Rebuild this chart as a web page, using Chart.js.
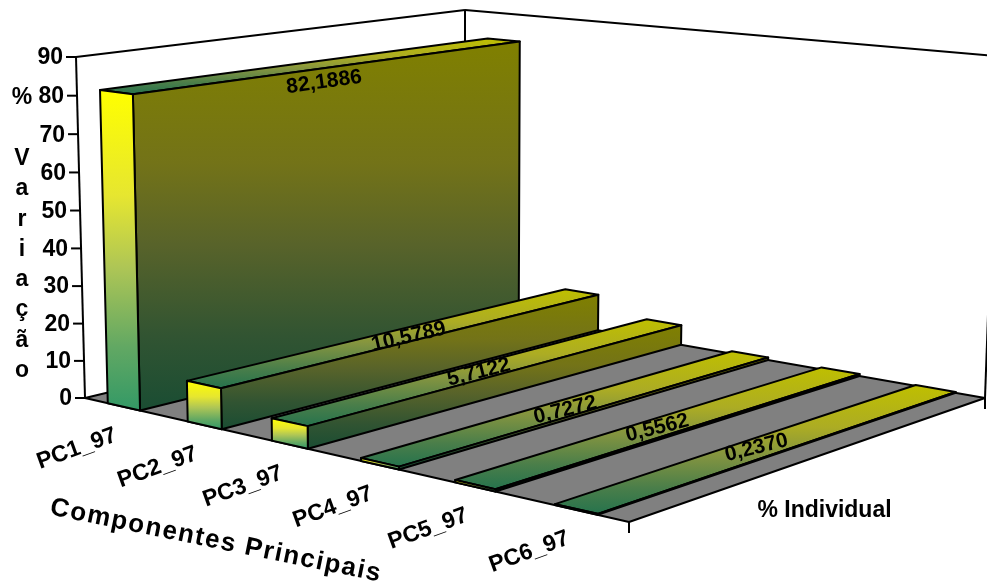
<!DOCTYPE html>
<html>
<head>
<meta charset="utf-8">
<title>Componentes Principais</title>
<script src="https://cdn.jsdelivr.net/npm/chart.js@4/dist/chart.umd.min.js"></script>
<style>
  html, body { margin: 0; padding: 0; background: #fff; }
  canvas { display: block; }
</style>
</head>
<body>
<canvas id="graph-canvas" width="987" height="588"></canvas>
<script>
const categories = ['PC1_97', 'PC2_97', 'PC3_97', 'PC4_97', 'PC5_97', 'PC6_97'];
const individual = [82.1886, 10.5789, 5.7122, 0.7272, 0.5562, 0.2370];
const yTicks = [0, 10, 20, 30, 40, 50, 60, 70, 80, 90];
const yTitle = '% Variação';
const xTitle = 'Componentes Principais';
const depthTitle = '% Individual';

// box corners on screen: floor front-left, front-right, back-right, back-left, then two wall tops
const FLOOR = [[85, 398], [629, 522], [985, 398], [465, 307]];
const WALL_FRONT_TOP = [76, 57];
const WALL_BACK_TOP = [465, 12];

// label tweaks: screen shift from the centre of the bar top, and text angle
const valueShift = [[0, 18], [2, 2], [-12, 4], [-14, 6], [-15, 5], [-14, 4]];
const valueAngle = [-8, -13, -14, -14, -14, -14];

// yellow to green fades, one per lit side of a bar
const GRAD_STOPS = [0, 0.33, 0.55, 0.8, 1];
const FRONT_FADE = ['#FFFF00', '#E6E630', '#AFC655', '#62A863', '#339966'];
const TOP_FADE = ['#BFBF00', '#ACAC24', '#839440', '#4A7E4A', '#26734D'];
const SIDE_FADE = ['#808000', '#737318', '#58632A', '#315432', '#1A4D33'];

const FONT = '"Liberation Sans", Arial, sans-serif';

// perspective matrix for (u, d, h): u along categories, d into the box, h up, all 0..1
function makeProjection() {
  const [p0, p1, p2, p3] = FLOOR;
  const dx1 = p1[0] - p2[0], dx2 = p3[0] - p2[0], sx = p0[0] - p1[0] + p2[0] - p3[0];
  const dy1 = p1[1] - p2[1], dy2 = p3[1] - p2[1], sy = p0[1] - p1[1] + p2[1] - p3[1];
  const den = dx1 * dy2 - dx2 * dy1;
  const g = (sx * dy2 - dx2 * sy) / den;
  const h = (dx1 * sy - sx * dy1) / den;
  const colU = [p1[0] - p0[0] + g * p1[0], p1[1] - p0[1] + g * p1[1], g];
  const colD = [p3[0] - p0[0] + h * p3[0], p3[1] - p0[1] + h * p3[1], h];
  const colO = [p0[0], p0[1], 1];
  const [ax, ay] = WALL_FRONT_TOP;
  const bx = WALL_BACK_TOP[0];
  const w = (colD[0] + ax - bx * (1 + h)) / (bx - ax);
  const colH = [ax * (1 + w) - p0[0], ay * (1 + w) - p0[1], w];
  return function (u, d, v) {
    const X = colU[0] * u + colD[0] * d + colH[0] * v + colO[0];
    const Y = colU[1] * u + colD[1] * d + colH[1] * v + colO[1];
    const W = colU[2] * u + colD[2] * d + colH[2] * v + colO[2];
    return [X / W, Y / W];
  };
}
const project = makeProjection();

function face(ctx, pts, fill) {
  ctx.beginPath();
  pts.forEach((p, i) => i ? ctx.lineTo(p[0], p[1]) : ctx.moveTo(p[0], p[1]));
  ctx.closePath();
  if (fill) {
    const ys = pts.map(p => p[1]);
    if (Array.isArray(fill)) {
      const grad = ctx.createLinearGradient(0, Math.min(...ys), 0, Math.max(...ys));
      fill.forEach((c, i) => grad.addColorStop(GRAD_STOPS[i], c));
      ctx.fillStyle = grad;
    } else {
      ctx.fillStyle = fill;
    }
    ctx.fill();
  }
  ctx.stroke();
}

function line(ctx, a, b) {
  ctx.beginPath();
  ctx.moveTo(a[0], a[1]);
  ctx.lineTo(b[0], b[1]);
  ctx.stroke();
}

function label(ctx, text, x, y, font, angle, spacing) {
  ctx.save();
  ctx.translate(x, y);
  ctx.rotate(angle * Math.PI / 180);
  ctx.font = font;
  ctx.letterSpacing = spacing || '0px';
  ctx.textAlign = 'center';
  ctx.textBaseline = 'middle';
  ctx.fillStyle = '#000';
  ctx.fillText(text, 0, 0);
  ctx.restore();
}

const box3d = {
  id: 'box3d',
  afterDatasetsDraw(chart) {
    const ctx = chart.ctx;
    const area = chart.chartArea;
    const yScale = chart.scales.y;
    const heightOf = v => (area.bottom - yScale.getPixelForValue(v)) / area.height;

    ctx.save();
    ctx.strokeStyle = '#000';
    ctx.lineWidth = 2;
    ctx.lineJoin = 'round';

    // walls and floor
    const [a0, a1] = [project(0, 0, 0), project(0, 0, 1)];
    const [b0, c0, c1] = [project(1, 0, 0), project(0, 1, 0), project(0, 1, 1)];
    const [d0, d1] = [project(1, 1, 0), project(1, 1, 1)];
    face(ctx, [a0, b0, d0, c0], '#808080');
    line(ctx, a0, a1);
    line(ctx, a1, c1);
    line(ctx, c1, c0);
    line(ctx, c1, d1);
    line(ctx, d1, d0);

    // axis ticks
    yTicks.forEach(t => {
      const p = project(0, 0, heightOf(t));
      line(ctx, [p[0] - 10, p[1]], p);
    });
    line(ctx, b0, [b0[0], b0[1] + 11]);
    line(ctx, d0, [d0[0], d0[1] + 11]);

    // bars, left to right so the nearer ones cover the farther ones
    const bars = chart.getDatasetMeta(0).data;
    bars.forEach(bar => {
      const u0 = (bar.x - bar.width / 2 - area.left) / area.width;
      const u1 = (bar.x + bar.width / 2 - area.left) / area.width;
      const h = (area.bottom - bar.y) / area.height;
      face(ctx, [project(u0, 0, h), project(u1, 0, h), project(u1, 1, h), project(u0, 1, h)], TOP_FADE);
      face(ctx, [project(u1, 0, 0), project(u1, 1, 0), project(u1, 1, h), project(u1, 0, h)], SIDE_FADE);
      face(ctx, [project(u0, 0, 0), project(u1, 0, 0), project(u1, 0, h), project(u0, 0, h)], FRONT_FADE);
    });
    ctx.restore();

    // tick labels
    ctx.save();
    ctx.font = 'bold 23px ' + FONT;
    ctx.fillStyle = '#000';
    ctx.textAlign = 'right';
    ctx.textBaseline = 'middle';
    yTicks.forEach(t => {
      const p = project(0, 0, heightOf(t));
      ctx.fillText(String(t), p[0] - 13, p[1] + 1);
    });
    ctx.restore();

    bars.forEach((bar, i) => {
      const uc = (bar.x - area.left) / area.width;
      const base = project(uc, 0, 0);
      label(ctx, categories[i], base[0] - 47, base[1] + 42, 'bold 23px ' + FONT, -20);

      const h = (area.bottom - bar.y) / area.height;
      const top = project(uc, 0.5, h);
      const text = individual[i].toFixed(4).replace('.', ',');
      label(ctx, text, top[0] + valueShift[i][0], top[1] + valueShift[i][1], 'bold 21px ' + FONT, valueAngle[i]);
    });

    // titles
    label(ctx, xTitle, 216, 541, 'bold 26px ' + FONT, 11.5, '1.5px');
    label(ctx, depthTitle, 824.5, 511, 'bold 23px ' + FONT, 0);
    Array.from(yTitle).forEach((ch, i) => {
      label(ctx, ch, 22, 98 + i * 30.3, 'bold 23px ' + FONT, 0);
    });
  }
};

new Chart(document.getElementById('graph-canvas'), {
  type: 'bar',
  data: {
    labels: categories,
    datasets: [{
      label: depthTitle,
      data: individual,
      backgroundColor: 'transparent',
      borderWidth: 0,
      barPercentage: 0.41,
      categoryPercentage: 1
    }]
  },
  options: {
    responsive: false,
    animation: false,
    events: [],
    layout: { padding: 0 },
    plugins: { legend: { display: false }, tooltip: { enabled: false } },
    scales: {
      x: { display: false },
      y: { display: false, min: 0, max: 90, ticks: { stepSize: 10 } }
    }
  },
  plugins: [box3d]
});
</script>
</body>
</html>
